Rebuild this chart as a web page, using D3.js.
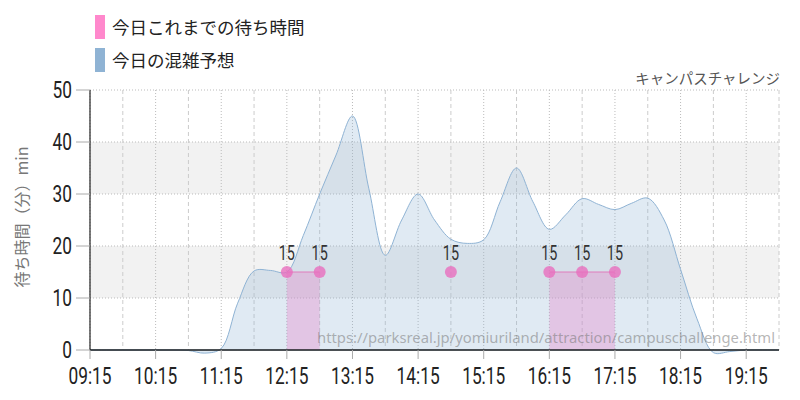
<!DOCTYPE html>
<html><head><meta charset="utf-8">
<script src="https://cdn.jsdelivr.net/npm/d3@7"></script>
<style>body{margin:0;background:#fff}svg{display:block}</style>
</head><body>
<script>
const times = ["09:15","09:30","09:45","10:00","10:15","10:30","10:45","11:00","11:15","11:30","11:45","12:00","12:15","12:30","12:45","13:00","13:15","13:30","13:45","14:00","14:15","14:30","14:45","15:00","15:15","15:30","15:45","16:00","16:15","16:30","16:45","17:00","17:15","17:30","17:45","18:00","18:15","18:30","18:45","19:00","19:15","19:30","19:45"];
const forecast = [0,0,0,0,0,0,-0.1,-0.6,0.3,9,15.2,15.3,15,22,30,37.5,45,31,18.2,25,30,25,21.3,20.5,21.2,28.5,35,28.5,23.2,26,29.1,28,27,28.2,29.2,25,15.5,6,-0.5,-0.3,0,0,0];
const waitTimes = ["12:15","12:45","14:45","16:15","16:45","17:15"];
const waitValues = [15,15,15,15,15,15];
const xTicks = ["09:15","10:15","11:15","12:15","13:15","14:15","15:15","16:15","17:15","18:15","19:15"];
const yTicks = [0,10,20,30,40,50];
const legendLabels = ["今日これまでの待ち時間","今日の混雑予想"];
const title = "キャンパスチャレンジ";
const watermark = "https://parksreal.jp/yomiuriland/attraction/campuschallenge.html";

const W=800,H=400, L=90, R=779, T=90, B=350;
const parse = d3.timeParse("%H:%M");
const svg = d3.select("body").append("svg").attr("width",W).attr("height",H);
const x = d3.scaleTime().domain([parse("09:15"),parse("19:45")]).range([L,R]);
const y = d3.scaleLinear().domain([0,50]).range([B,T]);
const tickFont = "'Roboto','DejaVu Sans',sans-serif";
const sx = 0.72;

// bands
[[10,20],[30,40]].forEach(b=>{
  svg.append("rect").attr("x",L).attr("width",R-L).attr("y",y(b[1])).attr("height",y(b[0])-y(b[1])).attr("fill","#f2f2f2");
});
// horizontal grid
yTicks.filter(v=>v>0).forEach(v=>{
  svg.append("line").attr("x1",L).attr("x2",R).attr("y1",y(v)).attr("y2",y(v)).attr("stroke","#bbb").attr("stroke-dasharray","1,2");
});
// vertical grid every 30 min from 09:15
const gridTimes = [];
for(let t=parse("09:15"); t<=parse("19:45"); t=d3.timeMinute.offset(t,30)) gridTimes.push(t);
gridTimes.forEach(t=>{
  const q = t.getMinutes()===15;
  svg.append("line").attr("x1",x(t)).attr("x2",x(t)).attr("y1",T).attr("y2",B)
    .attr("stroke",q?"#bbb":"#ccc").attr("stroke-dasharray",q?"1,2":"4,3");
});

// forecast area
const fData = times.map((t,i)=>({t:parse(t),v:forecast[i]}));
const area = d3.area().x(d=>x(d.t)).y0(y(0)).y1(d=>y(d.v)).curve(d3.curveCatmullRom.alpha(0.5));
svg.append("path").datum(fData).attr("d",area).attr("fill","rgba(143,179,212,0.28)").attr("stroke","#8fb3d4").attr("stroke-width",1);

// wait times segments
const wData = waitTimes.map((t,i)=>({t:parse(t),v:waitValues[i]}));
const segs=[]; let cur=[];
wData.forEach((d,i)=>{
  if(i>0 && (d.t-wData[i-1].t)>30*60000){segs.push(cur);cur=[];}
  cur.push(d);
});
segs.push(cur);
const wArea = d3.area().x(d=>x(d.t)).y0(y(0)).y1(d=>y(d.v));
const wLine = d3.line().x(d=>x(d.t)).y(d=>y(d.v));
segs.filter(s=>s.length>1).forEach(s=>{
  svg.append("path").datum(s).attr("d",wArea).attr("fill","rgba(230,130,200,0.35)");
  svg.append("path").datum(s).attr("d",wLine).attr("fill","none").attr("stroke","#e07cbc").attr("stroke-width",1);
});
svg.selectAll("circle.w").data(wData).join("circle").attr("class","w")
  .attr("cx",d=>x(d.t)).attr("cy",d=>y(d.v)).attr("r",6).attr("fill","rgba(232,110,190,0.8)");
svg.selectAll("text.wl").data(wData).join("text").attr("class","wl")
  .attr("transform",d=>`translate(${x(d.t)},${y(d.v)-12}) scale(${sx},1)`).attr("text-anchor","middle")
  .attr("font-family",tickFont).attr("font-size",20).attr("fill","#333").text(d=>d.v);

// watermark
svg.append("text").attr("x",R-4).attr("y",343).attr("text-anchor","end")
  .attr("font-family","'Noto Sans',sans-serif").attr("font-size",14.8).attr("fill","rgba(120,120,120,0.55)")
  .text(watermark);

// axes lines
svg.append("line").attr("x1",L).attr("x2",L).attr("y1",T).attr("y2",B).attr("stroke","#222").attr("stroke-width",1.2);
svg.append("line").attr("x1",L).attr("x2",R).attr("y1",B).attr("y2",B).attr("stroke","#222").attr("stroke-width",1.5);

// y ticks
yTicks.forEach(v=>{
  svg.append("line").attr("x1",76).attr("x2",L).attr("y1",y(v)).attr("y2",y(v)).attr("stroke","#aaa");
  svg.append("text").attr("transform",`translate(72,${y(v)+8}) scale(${sx},1)`).attr("text-anchor","end")
    .attr("font-family",tickFont).attr("font-size",24).attr("fill","#222").text(v);
});
// x ticks
xTicks.forEach(s=>{
  const t=parse(s);
  svg.append("line").attr("x1",x(t)).attr("x2",x(t)).attr("y1",B).attr("y2",B+9).attr("stroke","#aaa");
  svg.append("text").attr("transform",`translate(${x(t)},384) scale(${sx},1)`).attr("text-anchor","middle")
    .attr("font-family",tickFont).attr("font-size",24).attr("fill","#222").text(s);
});

// y label
svg.append("text").attr("transform","translate(28,217) rotate(-90)").attr("text-anchor","middle")
  .attr("font-family","'Noto Sans CJK JP',sans-serif").attr("font-size",16).attr("fill","#777").text("待ち時間（分）min");

// title
svg.append("text").attr("x",780).attr("y",84).attr("text-anchor","end")
  .attr("font-family","'Noto Sans CJK JP',sans-serif").attr("font-size",14.5).attr("fill","#555").text(title);

// legend
const legColors=["#ff88cc","#8fb3d4"];
legendLabels.forEach((l,i)=>{
  svg.append("rect").attr("x",95).attr("y",15+i*33).attr("width",10).attr("height",24).attr("fill",legColors[i]);
  svg.append("text").attr("x",112).attr("y",34+i*33).attr("font-family","'Noto Sans CJK JP',sans-serif")
    .attr("font-size",17.5).attr("fill","#222").text(l);
});
</script>
</body></html>
